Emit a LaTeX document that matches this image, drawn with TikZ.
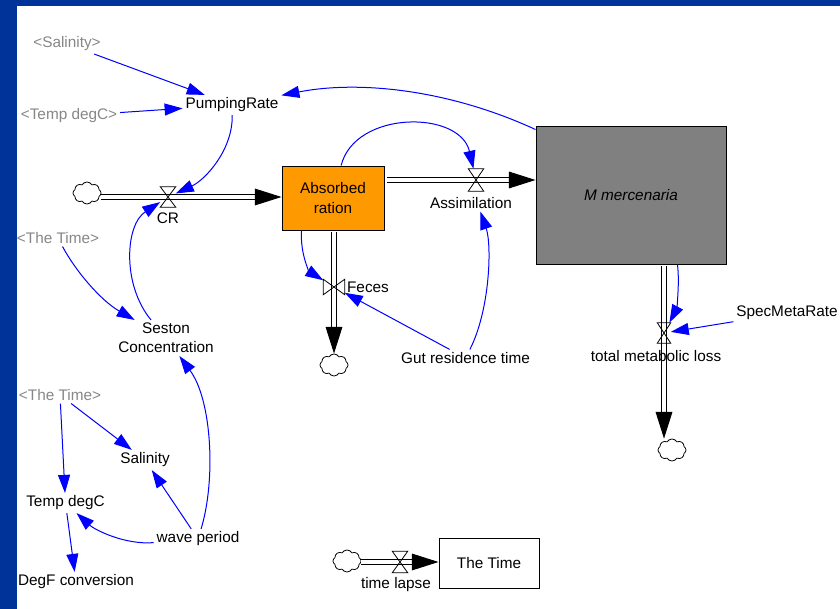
\documentclass[tikz,border=0pt]{standalone}
\usepackage{fontspec}
\setmainfont{Liberation Sans}
\usetikzlibrary{arrows.meta,shapes.symbols,calc}
\definecolor{navy}{RGB}{0,51,153}
\definecolor{vorange}{RGB}{255,153,0}
\definecolor{vgray}{RGB}{128,128,128}
\definecolor{shadowtxt}{RGB}{135,135,135}
\definecolor{linkblue}{RGB}{0,0,255}
\begin{document}
\begin{tikzpicture}[x=0.75pt,y=-0.75pt,
  txt/.style={font=\fontsize{11.5}{14.5}\selectfont, inner sep=2pt, align=center},
  shadowvar/.style={txt, text=shadowtxt},
  link/.style={draw=linkblue, line width=0.75pt, -{Triangle[length=13.5pt,width=9pt]}},
  pipe/.style={draw=black, line width=0.7pt, double=white, double distance=3pt},
  flowtip/.style={draw=black, line width=0.7pt, -{Triangle[length=20pt,width=12.5pt]}},
  valvebox/.style={minimum width=11.25pt, minimum height=15pt, inner sep=0pt},
  valveline/.style={draw=black, line width=0.6pt, line join=miter},
  stockbox/.style={draw=black, line width=0.7pt, inner sep=0pt, align=center, font=\fontsize{11.5}{14.5}\selectfont},
  cloudnode/.style={cloud, cloud puffs=8, cloud puff arc=120, aspect=1.3, draw=black, line width=0.6pt, fill=white, inner sep=0pt, minimum width=21pt, minimum height=16.5pt}
]
\useasboundingbox (0,0) rectangle (840,609);
\fill[navy] (0,0) rectangle (840,609);
\fill[white] (17,6) rectangle (840,609);

% stocks
\node[stockbox, fill=vorange, minimum width=76.5pt, minimum height=48pt] (absorbed) at (333,198) {Absorbed\\ration};
\node[stockbox, fill=vgray, minimum width=142.5pt, minimum height=103.5pt, font=\fontsize{11.5}{14.5}\selectfont\itshape] (mmerc) at (631,195) {M mercenaria};
\node[stockbox, fill=white, minimum width=75pt, minimum height=37.5pt] (thetime) at (489,563) {The Time};

% clouds
\node[cloudnode] (cloud1) at (87,193) {};
\node[cloudnode] (cloudF) at (334,365) {};
\node[cloudnode] (cloudM) at (672,450) {};
\node[cloudnode] (cloudT) at (347,561) {};

% valves
\node[valvebox] (v1) at (168,197) {};
\node[valvebox, minimum height=16.5pt] (vA) at (476,180) {};
\node[valvebox, minimum width=15.75pt, minimum height=11.25pt] (vF) at (334,287) {};
\node[valvebox, minimum width=9.75pt] (vM) at (664,333) {};
\node[valvebox, minimum height=15.75pt] (vT) at (400,562) {};

% variables
\node[shadowvar] (salA) at (67,44) {<Salinity>};
\node[shadowvar] (tempA) at (69,116) {<Temp degC>};
\node[txt] (pump) at (232,105) {PumpingRate};
\node[txt] (cr) at (168,218) {CR};
\node[shadowvar] (timeA) at (58,238) {<The Time>};
\node[txt] (seston) at (166,338) {Seston\\Concentration};
\node[shadowvar] (timeB) at (60,395) {<The Time>};
\node[txt] (salin) at (145,460) {Salinity};
\node[txt] (tempc) at (65.5,503) {Temp degC};
\node[txt] (wave) at (198,539) {wave period};
\node[txt] (degf) at (76,582) {DegF conversion};
\node[txt] (assim) at (471,203) {Assimilation};
\node[txt] (feces) at (368,287) {Feces};
\node[txt] (gut) at (465.5,358) {Gut residence time};
\node[txt] (specmeta) at (787,313) {SpecMetaRate};
\node[txt] (lapse) at (396,585) {time lapse};
\coordinate (tmlpos) at (656,356);

% flows (pipes)
\draw[pipe, shorten >=15pt] (cloud1.east |- v1) -- (absorbed.west |- v1);
\draw[flowtip] ($(absorbed.west |- v1)+(-27,0)$) -- (absorbed.west |- v1);

\draw[pipe, shorten >=15pt] ($(absorbed.east |- vA)+(3,0)$) -- (mmerc.west |- vA);
\draw[flowtip] ($(mmerc.west |- vA)+(-27,0)$) -- (mmerc.west |- vA);

\draw[pipe, shorten >=15pt] ($(vF |- absorbed.south)+(0,2)$) -- (vF |- cloudF.north);
\draw[flowtip] ($(vF |- cloudF.north)+(0,-26)$) -- (vF |- cloudF.north);

\draw[pipe, shorten >=15pt] ($(vM |- mmerc.south)+(0,2)$) -- (vM |- cloudM.north);
\draw[flowtip] ($(vM |- cloudM.north)+(0,-27)$) -- (vM |- cloudM.north);

\draw[pipe, shorten >=15pt] (cloudT.east |- vT) -- (thetime.west |- vT);
\draw[flowtip] ($(thetime.west |- vT)+(-27,0)$) -- (thetime.west |- vT);

% label lying across the outflow pipe
\node[txt] (tml) at (tmlpos) {total metabolic loss};

% valve glyphs
\draw[valveline] (v1.north west) -- (v1.north east) -- (v1.south west) -- (v1.south east) -- cycle;
\draw[valveline] (vA.north west) -- (vA.north east) -- (vA.south west) -- (vA.south east) -- cycle;
\draw[valveline] (vM.north west) -- (vM.north east) -- (vM.south west) -- (vM.south east) -- cycle;
\draw[valveline] (vT.north west) -- (vT.north east) -- (vT.south west) -- (vT.south east) -- cycle;
\draw[valveline] (vF.north west) -- (vF.south west) -- (vF.north east) -- (vF.south east) -- cycle;

% information links
\draw[link] (salA) -- (pump);
\draw[link] (tempA) -- (pump);
\draw[link] ([yshift=-3pt]mmerc.north west) .. controls (450,90) and (360,80) .. (pump);
\draw[link] (pump) .. controls (233,150) and (205,180) .. (v1);
\draw[link] (seston) .. controls (122,285) and (125,225) .. (v1);
\draw[link] (timeA) .. controls (75,270) and (100,300) .. (seston);
\draw[link] (absorbed) .. controls (355,110) and (460,110) .. (vA);
\draw[link] ([xshift=15pt]absorbed.south west) .. controls (300,255) and (310,272) .. (vF);
\draw[link] (gut) -- (vF);
\draw[link] (gut) .. controls (490,310) and (492,245) .. ([xshift=7pt]assim.south);
\draw[link] ([xshift=-36.75pt]mmerc.south east) .. controls (680,285) and (676,310) .. (vM);
\draw[link] (specmeta) -- (vM);
\draw[link] (timeB) -- (tempc);
\draw[link] (timeB) -- (salin);
\draw[link] (wave) -- (salin);
\draw[link] (wave) .. controls (125,545) and (95,530) .. (tempc);
\draw[link] (tempc) -- (degf);
\draw[link] (wave) .. controls (216,480) and (212,400) .. (seston);
\end{tikzpicture}
\end{document}
